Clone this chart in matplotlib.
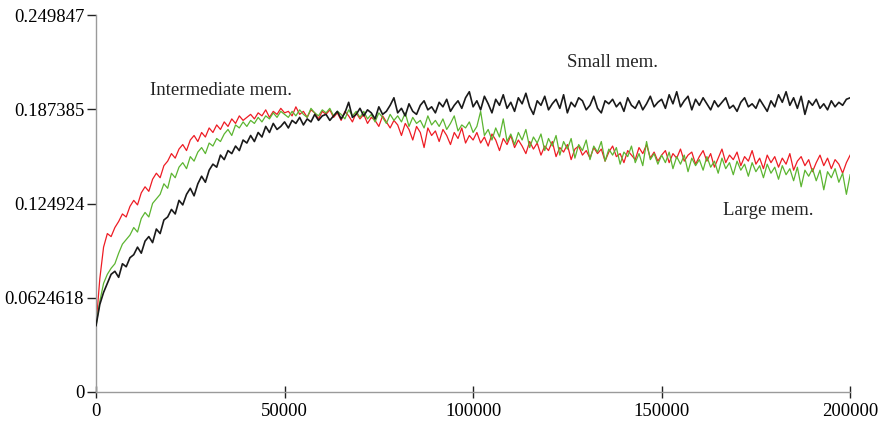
import numpy as np
import matplotlib
matplotlib.use("Agg")
import matplotlib.pyplot as plt

steps = list(range(0, 200001, 1000))

small_mem = [
    0.044, 0.058, 0.066, 0.072, 0.078, 0.080, 0.076, 0.085, 0.083, 0.089, 0.091,
    0.096, 0.092, 0.100, 0.103, 0.099, 0.108, 0.105, 0.114, 0.116, 0.121,
    0.118, 0.127, 0.124, 0.131, 0.135, 0.130, 0.138, 0.143, 0.139, 0.147,
    0.151, 0.149, 0.157, 0.154, 0.160, 0.158, 0.163, 0.160, 0.167, 0.165,
    0.170, 0.166, 0.172, 0.169, 0.176, 0.172, 0.178, 0.174, 0.176, 0.179,
    0.175, 0.180, 0.178, 0.182, 0.177, 0.181, 0.179, 0.184, 0.180, 0.183,
    0.184, 0.180, 0.183, 0.186, 0.181, 0.185, 0.192, 0.182, 0.184, 0.188,
    0.183, 0.187, 0.185, 0.181, 0.189, 0.184, 0.186, 0.190, 0.195, 0.185,
    0.188, 0.183, 0.191, 0.186, 0.184, 0.190, 0.193, 0.187, 0.189, 0.185,
    0.192, 0.189, 0.194, 0.186, 0.190, 0.193, 0.188, 0.195, 0.199, 0.189,
    0.193, 0.187, 0.196, 0.191, 0.185, 0.194, 0.190, 0.197, 0.188, 0.192,
    0.186, 0.195, 0.191, 0.198, 0.189, 0.184, 0.193, 0.190, 0.196, 0.187,
    0.191, 0.194, 0.188, 0.197, 0.185, 0.192, 0.189, 0.195, 0.193, 0.187,
    0.190, 0.196, 0.188, 0.185, 0.193, 0.191, 0.194, 0.189, 0.192, 0.186,
    0.195, 0.190, 0.188, 0.193, 0.187, 0.191, 0.196, 0.189, 0.192, 0.194,
    0.188, 0.197, 0.191, 0.199, 0.189, 0.193, 0.196, 0.187, 0.194, 0.190,
    0.195, 0.191, 0.187, 0.193, 0.189, 0.192, 0.195, 0.188, 0.190, 0.186,
    0.192, 0.195, 0.189, 0.191, 0.188, 0.194, 0.190, 0.186, 0.193, 0.189,
    0.197, 0.192, 0.199, 0.190, 0.195, 0.188, 0.196, 0.184, 0.193, 0.190,
    0.194, 0.188, 0.191, 0.187, 0.193, 0.189, 0.192, 0.190, 0.194, 0.195,
]

intermediate_mem = [
    0.044, 0.075, 0.096, 0.105, 0.103, 0.109, 0.113, 0.118, 0.116, 0.123, 0.127,
    0.124, 0.132, 0.136, 0.133, 0.141, 0.145, 0.142, 0.150, 0.153, 0.158,
    0.155, 0.161, 0.164, 0.160, 0.167, 0.170, 0.166, 0.172, 0.169, 0.175,
    0.172, 0.177, 0.174, 0.179, 0.176, 0.181, 0.178, 0.183, 0.180, 0.182,
    0.184, 0.181, 0.185, 0.183, 0.187, 0.182, 0.186, 0.184, 0.188, 0.185,
    0.186, 0.183, 0.189, 0.184, 0.186, 0.182, 0.187, 0.185, 0.181, 0.186,
    0.184, 0.187, 0.182, 0.185, 0.180, 0.186, 0.183, 0.179, 0.185, 0.181,
    0.184, 0.178, 0.182, 0.180, 0.176, 0.183, 0.179, 0.175, 0.180, 0.177,
    0.170, 0.178, 0.174, 0.167, 0.176, 0.172, 0.162, 0.175, 0.170, 0.173,
    0.166, 0.174, 0.170, 0.164, 0.172, 0.168, 0.175, 0.165, 0.170, 0.167,
    0.172, 0.165, 0.169, 0.163, 0.171, 0.167, 0.160, 0.168, 0.164, 0.170,
    0.162, 0.167, 0.163, 0.158, 0.166, 0.161, 0.165, 0.157, 0.163, 0.160,
    0.166, 0.156, 0.162, 0.159, 0.164, 0.154, 0.161, 0.163, 0.157, 0.160,
    0.155, 0.162, 0.158, 0.161, 0.153, 0.159, 0.163, 0.156, 0.158, 0.152,
    0.160, 0.157, 0.154, 0.162, 0.158, 0.164, 0.155, 0.159, 0.153, 0.157,
    0.160, 0.152, 0.158, 0.155, 0.161, 0.153, 0.157, 0.159, 0.151, 0.156,
    0.160, 0.153, 0.158, 0.149, 0.155, 0.161, 0.152, 0.157, 0.154, 0.159,
    0.150, 0.156, 0.153, 0.160, 0.151, 0.155, 0.148, 0.157, 0.152, 0.156,
    0.149, 0.155, 0.151, 0.158, 0.147, 0.153, 0.156, 0.150, 0.154, 0.146,
    0.152, 0.157, 0.150, 0.155, 0.148, 0.154, 0.151, 0.145, 0.152, 0.157,
]

large_mem = [
    0.044, 0.060, 0.072, 0.078, 0.082, 0.085, 0.092, 0.098, 0.101, 0.104, 0.109,
    0.106, 0.115, 0.119, 0.116, 0.125, 0.128, 0.131, 0.138, 0.135, 0.145,
    0.142, 0.149, 0.152, 0.148, 0.156, 0.153, 0.159, 0.162, 0.158, 0.165,
    0.163, 0.168, 0.166, 0.171, 0.174, 0.170, 0.177, 0.175, 0.179, 0.176,
    0.180, 0.178, 0.182, 0.179, 0.183, 0.181, 0.185, 0.182, 0.186, 0.184,
    0.182, 0.186, 0.183, 0.187, 0.184, 0.182, 0.188, 0.185, 0.183, 0.187,
    0.185, 0.188, 0.183, 0.186, 0.184, 0.181, 0.187, 0.183, 0.186, 0.182,
    0.186, 0.181, 0.184, 0.179, 0.185, 0.182, 0.178, 0.184, 0.180, 0.183,
    0.179, 0.185, 0.176, 0.182, 0.178, 0.180, 0.175, 0.183, 0.177, 0.180,
    0.176, 0.181, 0.174, 0.178, 0.183, 0.173, 0.177, 0.175, 0.179, 0.172,
    0.176, 0.186, 0.170, 0.174, 0.167, 0.175, 0.169, 0.181, 0.166, 0.171,
    0.164, 0.172, 0.167, 0.174, 0.162, 0.169, 0.165, 0.171, 0.160, 0.168,
    0.163, 0.170, 0.157, 0.166, 0.161, 0.168, 0.155, 0.164, 0.160, 0.167,
    0.154, 0.163, 0.159, 0.166, 0.153, 0.161, 0.157, 0.162, 0.151, 0.159,
    0.156, 0.163, 0.152, 0.158, 0.150, 0.166, 0.154, 0.158, 0.151, 0.157,
    0.152, 0.159, 0.148, 0.156, 0.151, 0.157, 0.146, 0.155, 0.150, 0.154,
    0.147, 0.156, 0.149, 0.153, 0.145, 0.155, 0.148, 0.152, 0.144, 0.153,
    0.147, 0.151, 0.143, 0.152, 0.146, 0.150, 0.142, 0.151, 0.145, 0.149,
    0.141, 0.150, 0.144, 0.148, 0.140, 0.149, 0.136, 0.147, 0.143, 0.148,
    0.140, 0.147, 0.134, 0.146, 0.142, 0.148, 0.139, 0.145, 0.131, 0.144,
]

y_ticks = [0, 0.0624618, 0.124924, 0.187385, 0.249847]
y_tick_labels = ["0", "0.0624618", "0.124924", "0.187385", "0.249847"]
x_ticks = [0, 50000, 100000, 150000, 200000]
x_tick_labels = ["0", "50000", "100000", "150000", "200000"]

plt.rcParams['font.family'] = ['Liberation Serif', 'DejaVu Serif']

fig = plt.figure(figsize=(8.81, 4.23), dpi=100)
ax = fig.add_axes([0.109, 0.0733, 0.856, 0.8912])

ax.plot(steps, small_mem, color='#1a1a1a', lw=1.2, zorder=3)
ax.plot(steps, intermediate_mem, color='#ee1c24', lw=0.9, zorder=2)
ax.plot(steps, large_mem, color='#5cb531', lw=0.9, zorder=2.5)

ax.set_xlim(0, 200000)
ax.set_ylim(0, 0.249847)
ax.set_yticks(y_ticks)
ax.set_yticklabels(y_tick_labels)
ax.set_xticks(x_ticks)
ax.set_xticklabels(x_tick_labels)

for s in ['top', 'right']:
    ax.spines[s].set_visible(False)
for s in ['left', 'bottom']:
    ax.spines[s].set_color('#9a9a9a')
    ax.spines[s].set_linewidth(1.0)

ax.tick_params(axis='y', direction='out', length=6.5, width=1, color='#222222',
               labelsize=13.5, pad=2)
ax.tick_params(axis='x', direction='inout', length=8.5, width=1, color='#222222',
               labelsize=13.5, pad=4)

ax.text(14300, 0.2001, "Intermediate mem.", fontsize=13.5, va='center', ha='left', color='#222222')
ax.text(124900, 0.2187, "Small mem.", fontsize=13.5, va='center', ha='left', color='#222222')
ax.text(166300, 0.1206, "Large mem.", fontsize=13.5, va='center', ha='left', color='#222222')

fig.savefig("out.png", dpi=100)
